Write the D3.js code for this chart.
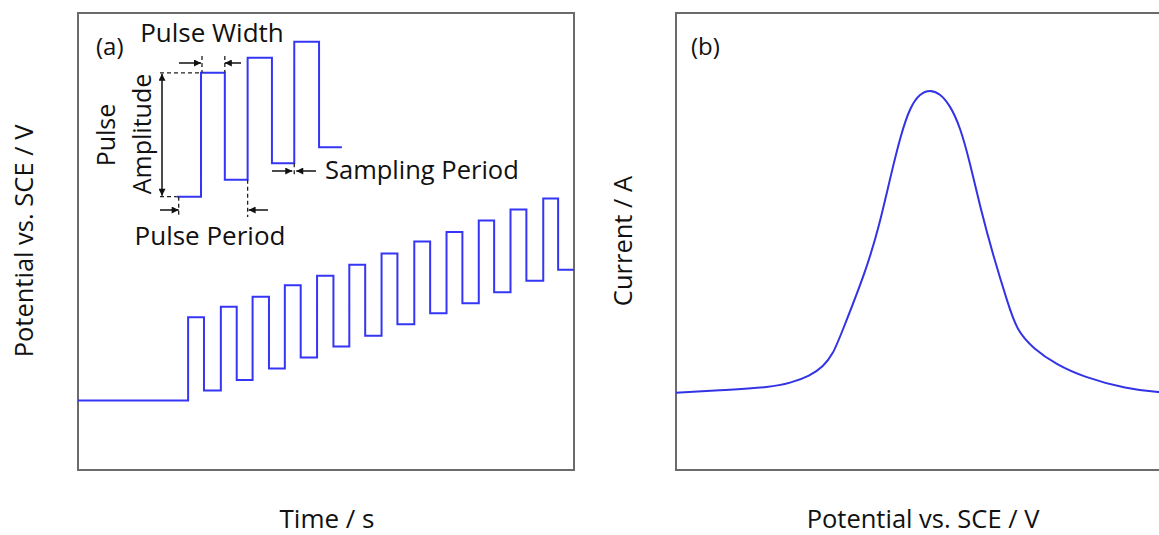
<!DOCTYPE html>
<html>
<head>
<meta charset="utf-8">
<script src="https://cdn.jsdelivr.net/npm/d3@7"></script>
<style>
  body { margin: 0; background: #fff; }
  svg text { font-family: "Open Sans", sans-serif; fill: #111; }
</style>
</head>
<body>
<div id="chart"></div>
<script>
/* Data (arbitrary units 0..100 on both axes of each panel) */

// panel (a): differential pulse staircase
var stepBase = 15.2
var pulseStart = [22.2, 28.8, 35.2, 41.7, 48.2, 54.7, 61.2, 67.8, 74.3, 80.8, 87.2, 93.8]
var pulseEnd   = [25.4, 32.0, 38.5, 44.9, 51.5, 57.9, 64.4, 71.0, 77.5, 83.9, 90.4, 96.8]
var pulseTop   = [33.4, 35.7, 37.9, 40.4, 42.5, 44.9, 47.4, 50.0, 52.1, 54.6, 57.0, 59.4]
var pulseLow   = [17.4, 19.7, 22.2, 24.6, 27.0, 29.4, 31.9, 34.3, 36.5, 38.9, 41.4, 43.8]

// inset sketch in panel (a)
var insetX = [19.9, 24.8, 29.6, 34.2, 39.1, 43.6, 48.6, 53.2]
var insetY = [59.8, 86.9, 63.5, 90.2, 67.1, 93.7, 70.6, 70.6]

// panel (b): peak current vs potential
var peakX = [0, 10.2, 19.0, 23.0, 27.0, 29.7, 31.7, 33.1, 38.4, 41.1, 43.1, 45.2, 47.2, 49.2, 51.2,
  53.2, 55.2, 57.3, 59.3, 61.3, 64.0, 66.9, 68.7, 72.0, 76.8, 82.1, 90.9, 97.4, 100]
var peakY = [16.9, 17.5, 18.1, 19.0, 20.6, 22.6, 25.5, 29.2, 43.8, 54.0, 63.5, 72.9, 79.5, 82.4, 83.2,
  82.4, 79.9, 75.1, 67.1, 57.6, 46.7, 36.5, 30.6, 26.6, 23.0, 20.4, 17.7, 17.0, 16.9]

var width = 1159, height = 535
var panelW = 496, panelTop = 13, panelBottom = 470
var panelA = 78, panelB = 676
var lineBlue = "#3535f5"

var svg = d3.select("#chart").append("svg")
  .attr("width", width).attr("height", height)

var defs = svg.append("defs")
defs.append("marker")
  .attr("id", "arrow")
  .attr("viewBox", "0 0 10 10")
  .attr("refX", 10).attr("refY", 5)
  .attr("markerWidth", 9).attr("markerHeight", 7)
  .attr("markerUnits", "userSpaceOnUse")
  .attr("orient", "auto-start-reverse")
  .append("path").attr("d", "M0,0 L10,5 L0,10 z").attr("fill", "#111")

var yScale = d3.scaleLinear().domain([0, 100]).range([panelBottom, panelTop])
var xA = d3.scaleLinear().domain([0, 100]).range([panelA, panelA + panelW])
var xB = d3.scaleLinear().domain([0, 100]).range([panelB, panelB + panelW])

function frame(x0) {
  svg.append("rect")
    .attr("x", x0).attr("y", panelTop)
    .attr("width", panelW).attr("height", panelBottom - panelTop)
    .attr("fill", "none").attr("stroke", "#6b6b6b").attr("stroke-width", 2)
}
frame(panelA)
frame(panelB)

/* Panel (a) staircase */
var stairs = [[0, stepBase]]
pulseStart.forEach((s, i) => {
  let prev = i == 0 ? stepBase : pulseLow[i - 1]
  stairs.push([s, prev], [s, pulseTop[i]], [pulseEnd[i], pulseTop[i]], [pulseEnd[i], pulseLow[i]])
})
stairs.push([100, pulseLow[pulseLow.length - 1]])

var line = d3.line().x(d => xA(d[0])).y(d => yScale(d[1]))
svg.append("path")
  .attr("d", line(stairs))
  .attr("fill", "none").attr("stroke", lineBlue).attr("stroke-width", 2)

/* Inset sketch */
var inset = [[insetX[0], insetY[0]]]
for (let i = 1; i < insetX.length; i++) {
  inset.push([insetX[i], insetY[i - 1]], [insetX[i], insetY[i]])
}
inset.pop()
inset.push([insetX[insetX.length - 1], insetY[insetY.length - 1]])
svg.append("path")
  .attr("d", line(inset))
  .attr("fill", "none").attr("stroke", lineBlue).attr("stroke-width", 2)

var ann = svg.append("g")
function dashed(x1, y1, x2, y2) {
  ann.append("line").attr("x1", x1).attr("y1", y1).attr("x2", x2).attr("y2", y2)
    .attr("stroke", "#222").attr("stroke-width", 1.3).attr("stroke-dasharray", "4,3")
}
function arrow(x1, y1, x2, y2, both) {
  let l = ann.append("line").attr("x1", x1).attr("y1", y1).attr("x2", x2).attr("y2", y2)
    .attr("stroke", "#111").attr("stroke-width", 1.5)
    .attr("marker-end", "url(#arrow)")
  if (both) l.attr("marker-start", "url(#arrow)")
}

var topY = yScale(insetY[1]), baseY = yScale(insetY[0])
var ampX = 162
// pulse amplitude
dashed(ampX - 2, topY, xA(insetX[1]), topY)
dashed(ampX - 2, baseY, xA(insetX[0]), baseY)
arrow(ampX, topY + 1, ampX, baseY - 1, true)
// pulse width
dashed(xA(insetX[1]) + 1, 56, xA(insetX[1]) + 1, topY)
dashed(xA(insetX[2]), 56, xA(insetX[2]), topY)
arrow(179, 63, xA(insetX[1]), 63)
arrow(241, 63, xA(insetX[2]), 63)
// pulse period
dashed(xA(insetX[0]) + 2, baseY, xA(insetX[0]) + 2, 217)
dashed(xA(insetX[3]), yScale(insetY[2]), xA(insetX[3]), 217)
arrow(160, 210, xA(insetX[0]) + 2, 210)
arrow(268, 210, xA(insetX[3]) + 1, 210)
// sampling period
dashed(xA(insetX[5]), yScale(insetY[4]), xA(insetX[5]), 176)
arrow(272, 171, xA(insetX[5]) - 2, 171)
arrow(316, 171, xA(insetX[5]) + 2, 171)

function label(txt, x, y, anchor, rotate, size) {
  svg.append("text")
    .attr("transform", `translate(${x},${y})` + (rotate ? " rotate(-90)" : ""))
    .attr("text-anchor", anchor || "start")
    .style("font-size", (size || 25) + "px")
    .text(txt)
}
label("Pulse Width", 212, 42, "middle", false, 26)
label("Pulse Period", 210, 245, "middle", false, 26)
label("Sampling Period", 325, 179, "start", false, 25.5)
label("Pulse", 115, 135, "middle", true)
label("Amplitude", 151, 134, "middle", true)
label("(a)", 96, 55, "start", false, 24)
label("(b)", 691, 55, "start", false, 24)

/* Panel (b) peak */
var peak = peakX.map((x, i) => [x, peakY[i]])
svg.append("path")
  .attr("d", d3.line().x(d => xB(d[0])).y(d => yScale(d[1])).curve(d3.curveBasis)(peak))
  .attr("fill", "none").attr("stroke", "#3333e6").attr("stroke-width", 2)

/* Axis titles */
label("Potential vs. SCE / V", 33, 241, "middle", true, 25.5)
label("Time / s", 327, 528, "middle", false, 26)
label("Current / A", 632, 241, "middle", true, 25.5)
label("Potential vs. SCE / V", 923, 528, "middle", false, 25.5)
</script>
</body>
</html>
